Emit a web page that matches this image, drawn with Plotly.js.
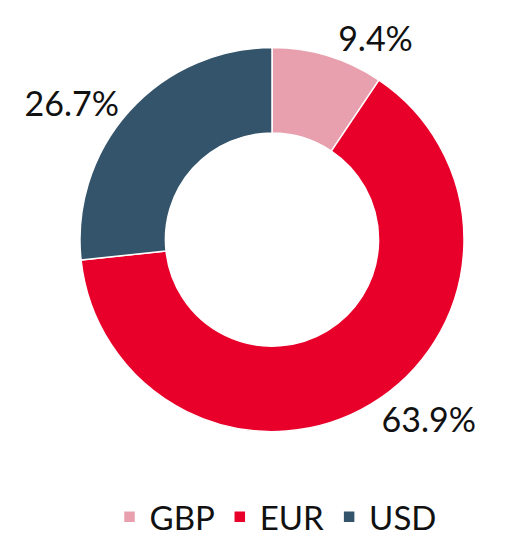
<!DOCTYPE html>
<html><head><meta charset="utf-8">
<script src="https://cdn.plot.ly/plotly-3.0.1.min.js"></script>
<style>html,body{margin:0;padding:0;background:#fff}#chart{width:515px;height:536px}</style>
</head><body><div id="chart"></div>
<script>
const currencies = ["GBP", "EUR", "USD"];
const shares = [9.4, 63.9, 26.7];
const colors = ["#E8A0AE", "#E8002B", "#34546B"];

const trace = {
  type: "pie",
  labels: currencies,
  values: shares,
  sort: false,
  direction: "clockwise",
  rotation: 0,
  hole: 0.555,
  marker: {colors: colors, line: {color: "#ffffff", width: 1.5}},
  texttemplate: "%{value:.1f}%",
  textposition: "outside",
  textfont: {size: 34, color: "#111111", family: "Lato"},
  domain: {x: [0.1553, 0.9010], y: [0.194, 0.912]},
  automargin: false,
  hoverinfo: "label+value"
};
const layout = {
  width: 515, height: 536,
  margin: {l: 0, r: 0, t: 0, b: 0, autoexpand: false},
  paper_bgcolor: "#ffffff",
  font: {family: "Lato", color: "#111111"},
  showlegend: true,
  legend: {orientation: "h", x: 0.535, xanchor: "center", y: 0.036, yanchor: "middle",
           font: {size: 33, color: "#111111"}, itemwidth: 30, traceorder: "normal"}
};
Plotly.newPlot("chart", [trace], layout, {displayModeBar: false});
</script></body></html>
